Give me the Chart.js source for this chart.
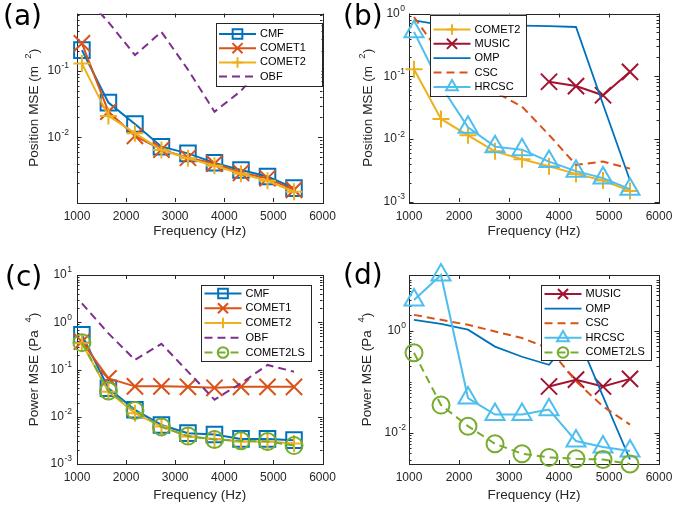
<!DOCTYPE html>
<html><head><meta charset="utf-8">
<script src="https://cdn.jsdelivr.net/npm/chart.js@4.4.0/dist/chart.umd.min.js"></script>
<style>
html,body{margin:0;padding:0;background:#fff;}
#wrap{position:relative;width:673px;height:510px;overflow:hidden;background:#fff;}
canvas{position:absolute;display:block;}
</style></head><body>
<div id="wrap">
<canvas id="ca" width="336" height="250" style="left:0;top:0;width:336px;height:250px"></canvas>
<canvas id="cb" width="337" height="250" style="left:336px;top:0;width:337px;height:250px"></canvas>
<canvas id="cc" width="336" height="260" style="left:0;top:250px;width:336px;height:260px"></canvas>
<canvas id="cd" width="337" height="260" style="left:336px;top:250px;width:337px;height:260px"></canvas>
</div>
<script>
// ---------------- DATA ----------------
const frequencies = [1100, 1640, 2180, 2720, 3260, 3800, 4340, 4880, 5420];
const freqTicks = [1000, 2000, 3000, 4000, 5000, 6000];

// Position MSE (m^2) — panels (a), (b)
const posCMF    = [0.207, 0.0333, 0.0158, 0.0072, 0.0057, 0.0041, 0.0032, 0.00255, 0.0017];
const posCOMET1 = [0.262, 0.0243, 0.0105, 0.0065, 0.0049, 0.0040, 0.0029, 0.0024, 0.0016];
const posCOMET2 = [0.130, 0.0210, 0.0115, 0.0064, 0.0048, 0.0037, 0.0028, 0.0022, 0.0015];
const posOBF    = [1.5, 0.55, 0.174, 0.39, 0.105, 0.0243, 0.050, 0.15, 0.12];
const posMUSIC  = [null, null, null, null, null, 0.082, 0.070, 0.050, 0.118];
const posOMP    = [0.78, 0.66, 0.65, 0.64, 0.64, 0.63, 0.61, 0.036, 0.0022];
const posCSC    = [0.88, 0.22, 0.11, 0.056, 0.033, 0.0117, 0.0039, 0.0044, 0.0034];
const posHRCSC  = [0.51, 0.07, 0.0155, 0.0076, 0.0068, 0.0044, 0.0031, 0.0024, 0.0016];

// Power MSE (Pa^4) — panels (c), (d)
const powCMF      = [0.54, 0.040, 0.0140, 0.0067, 0.0045, 0.0042, 0.0034, 0.0034, 0.0032];
const powCOMET1   = [0.39, 0.065, 0.044, 0.044, 0.043, 0.041, 0.043, 0.043, 0.043];
const powCOMET2   = [0.36, 0.034, 0.0119, 0.0062, 0.0038, 0.0034, 0.0030, 0.0030, 0.0027];
const powOBF      = [2.5, 0.58, 0.16, 0.35, 0.09, 0.023, 0.051, 0.125, 0.09];
const powCOMET2LS = [0.37, 0.035, 0.0135, 0.0061, 0.0039, 0.0033, 0.0031, 0.0030, 0.00245];
const powMUSIC    = [null, null, null, null, null, 0.081, 0.11, 0.081, 0.114];
const powOMP      = [1.64, 1.37, 1.05, 0.49, 0.31, 0.216, 0.92, 0.052, 0.0030];
const powCSC      = [2.05, 1.64, 1.31, 0.97, 0.72, 0.45, 0.102, 0.033, 0.0145];
const powHRCSC    = [4.0, 12.4, 0.048, 0.0228, 0.0228, 0.0285, 0.0069, 0.0053, 0.0044];

// y tick labels (powers of ten) per panel
const aTickExp = [-2, -1];
const bTickExp = [-3, -2, -1, 0];
const cTickExp = [-3, -2, -1, 0, 1];
const dTickExp = [-2, 0];

// ---------------- STYLE ----------------
const COL = {blue:'#0072BD', orange:'#D95319', yellow:'#EDB120', purple:'#7E2F8E',
             green:'#77AC30', cyan:'#4DBEEE', dred:'#A2142F'};
const AX = '#262626';
const FONT = '"Liberation Sans", Arial, Helvetica, sans-serif';
const MK = {
  square: {style:'rect', r:11},
  x: {style:'crossRot', r:11.5},
  plus: {style:'cross', r:8.5},
  tri: {style:'triangle', r:11},
  circ: {style:'circle', r:8.5},
  none: {style:'circle', r:0}
};

function series(label, values, color, marker, dashed, n, i, extra) {
  const m = MK[marker];
  return Object.assign({
    label,
    data: values.map((v, k) => ({x: frequencies[k], y: v})),
    borderColor: color,
    backgroundColor: 'rgba(0,0,0,0)',
    borderWidth: 2,
    borderDash: dashed ? [8, 5] : [],
    pointStyle: m.style,
    pointRadius: m.r,
    pointHoverRadius: m.r,
    pointBorderWidth: 2,
    pointBorderColor: color,
    pointBackgroundColor: 'rgba(0,0,0,0)',
    tension: 0,
    clip: false,
    order: n - i,
    mk: m
  }, extra || {});
}

function drawMarker(ctx, style, r, x, y) {
  if (r <= 0) return;
  ctx.beginPath();
  if (style === 'rect') { const s = r * Math.SQRT1_2; ctx.rect(x - s, y - s, 2 * s, 2 * s); }
  else if (style === 'circle') { ctx.arc(x, y, r, 0, 2 * Math.PI); }
  else if (style === 'triangle') {
    ctx.moveTo(x, y - r);
    ctx.lineTo(x + r * Math.sin(2 * Math.PI / 3), y - r * Math.cos(2 * Math.PI / 3));
    ctx.lineTo(x + r * Math.sin(4 * Math.PI / 3), y - r * Math.cos(4 * Math.PI / 3));
    ctx.closePath();
  }
  else if (style === 'cross') { ctx.moveTo(x, y - r); ctx.lineTo(x, y + r); ctx.moveTo(x - r, y); ctx.lineTo(x + r, y); }
  else if (style === 'crossRot') { const d = r * Math.SQRT1_2; ctx.moveTo(x - d, y - d); ctx.lineTo(x + d, y + d); ctx.moveTo(x + d, y - d); ctx.lineTo(x - d, y + d); }
  ctx.stroke();
}

const matlabAxes = {
  id: 'matlabAxes',
  beforeDatasetsDraw(chart, args, o) {
    const ctx = chart.ctx, a = chart.chartArea, xs = chart.scales.x, ys = chart.scales.y;
    ctx.save();
    ctx.strokeStyle = AX; ctx.lineWidth = 1; ctx.setLineDash([]);
    ctx.beginPath();
    freqTicks.forEach(v => {
      const px = Math.round(xs.getPixelForValue(v)) + 0.5;
      ctx.moveTo(px, a.bottom); ctx.lineTo(px, a.bottom - 4);
      ctx.moveTo(px, a.top); ctx.lineTo(px, a.top + 4);
    });
    const lo = Math.floor(Math.log10(ys.min)), hi = Math.ceil(Math.log10(ys.max));
    for (let e = lo; e <= hi; e++) for (let k = 1; k <= 9; k++) {
      const v = k * Math.pow(10, e);
      if (v < ys.min * 0.999 || v > ys.max * 1.001) continue;
      const major = (k === 1 && o.tickExp.includes(e));
      const len = major ? 4.5 : 2.5;
      const py = Math.round(ys.getPixelForValue(v)) + 0.5;
      ctx.moveTo(a.left, py); ctx.lineTo(a.left + len, py);
      ctx.moveTo(a.right, py); ctx.lineTo(a.right - len, py);
    }
    ctx.stroke();
    ctx.strokeRect(Math.round(a.left) + 0.5, Math.round(a.top) + 0.5,
                   Math.round(a.right - a.left), Math.round(a.bottom - a.top));
    ctx.restore();
  },
  afterDraw(chart, args, o) {
    const ctx = chart.ctx, a = chart.chartArea, xs = chart.scales.x, ys = chart.scales.y;
    ctx.save();
    ctx.fillStyle = AX;
    // x tick labels
    ctx.font = '12px ' + FONT; ctx.textAlign = 'center'; ctx.textBaseline = 'middle';
    freqTicks.forEach(v => ctx.fillText(String(v), xs.getPixelForValue(v), a.bottom + o.xLabY));
    // x title
    ctx.font = '13.5px ' + FONT;
    ctx.fillText('Frequency (Hz)', (a.left + a.right) / 2, a.bottom + o.xTitleY);
    // y tick labels
    const baseF = '12px ' + FONT, expF = '8.5px ' + FONT;
    ctx.textAlign = 'left';
    o.tickExp.forEach(e => {
      const py = ys.getPixelForValue(Math.pow(10, e));
      const et = String(e);
      ctx.font = expF; const ew = ctx.measureText(et).width;
      ctx.font = baseF; const bw = ctx.measureText('10').width;
      const right = a.left - o.yLabGap;
      ctx.fillText('10', right - ew - bw - 0.5, py);
      ctx.font = expF; ctx.fillText(et, right - ew, py - 5);
    });
    // y title (rotated, with superscript)
    ctx.save();
    ctx.translate(a.left + o.yTitleX, (a.top + a.bottom) / 2);
    ctx.rotate(-Math.PI / 2);
    const tF = '13.5px ' + FONT, sF = '9.5px ' + FONT;
    let total = 0;
    o.yTitle.forEach(p => { ctx.font = p.sup ? sF : tF; p.w = ctx.measureText(p.t).width; total += p.w; });
    let xx = -total / 2;
    ctx.textAlign = 'left';
    o.yTitle.forEach(p => { ctx.font = p.sup ? sF : tF; ctx.fillText(p.t, xx, p.sup ? -6 : 0); xx += p.w; });
    ctx.restore();
    // panel tag
    ctx.fillStyle = '#000';
    ctx.font = '28px "DejaVu Sans", sans-serif'; ctx.textAlign = 'left'; ctx.textBaseline = 'alphabetic';
    ctx.fillText(o.tag, o.tagX, o.tagY);
    // legend
    const L = o.legend;
    const bx = L.right !== undefined ? a.right - L.right - L.w : a.left + L.left;
    const by = a.top + L.top;
    ctx.fillStyle = '#fff';
    ctx.fillRect(bx, by, L.w, L.h);
    ctx.strokeStyle = AX; ctx.lineWidth = 1; ctx.setLineDash([]);
    ctx.strokeRect(Math.round(bx) + 0.5, Math.round(by) + 0.5, Math.round(L.w), Math.round(L.h));
    chart.data.datasets.forEach((ds, i) => {
      const y = by + L.first + i * L.step;
      ctx.strokeStyle = ds.borderColor; ctx.lineWidth = ds.borderWidth;
      ctx.setLineDash(ds.borderDash);
      ctx.beginPath(); ctx.moveTo(bx + 3.5, y); ctx.lineTo(bx + 40.5, y); ctx.stroke();
      ctx.setLineDash([]); ctx.lineWidth = 2;
      drawMarker(ctx, ds.mk.style, ds.mk.r * 0.62, bx + 22, y);
      ctx.fillStyle = '#000'; ctx.font = '11px ' + FONT; ctx.textBaseline = 'middle';
      ctx.fillText(ds.label, bx + 44.5, y);
    });
    ctx.restore();
  }
};

function makeChart(id, datasets, yMin, yMax, opts) {
  return new Chart(document.getElementById(id), {
    type: 'line',
    data: {datasets},
    options: {
      responsive: false, animation: false, events: [],
      layout: {padding: opts.padding},
      plugins: {legend: {display: false}, tooltip: {enabled: false}, matlabAxes: opts},
      scales: {
        x: {type: 'linear', min: 1000, max: 6000, display: false},
        y: {type: 'logarithmic', min: yMin, max: yMax, display: false}
      }
    },
    plugins: [matlabAxes]
  });
}

const posTitle = [{t:'Position MSE (m  '}, {t:'2', sup:true}, {t:')'}];
const powTitle = [{t:'Power MSE (Pa  '}, {t:'4', sup:true}, {t:')'}];

// (a)
makeChart('ca', [
  series('CMF', posCMF, COL.blue, 'square', false, 4, 0),
  series('COMET1', posCOMET1, COL.orange, 'x', false, 4, 1),
  series('COMET2', posCOMET2, COL.yellow, 'plus', false, 4, 2),
  series('OBF', posOBF, COL.purple, 'none', true, 4, 3, {clip: 0})
], 0.00105, 0.74, {
  padding: {left: 77, top: 13, right: 7, bottom: 48},
  tickExp: aTickExp, yLabGap: 8, yTitleX: -43, xLabY: 14.5, xTitleY: 29.5,
  yTitle: posTitle, tag: '(a)', tagX: 3, tagY: 24.5,
  legend: {right: 1, top: 9, w: 106, h: 63, first: 11.5, step: 14.2}
});

// (b)
makeChart('cb', [
  series('COMET2', posCOMET2, COL.yellow, 'plus', false, 5, 0),
  series('MUSIC', posMUSIC, COL.dred, 'x', false, 5, 1),
  series('OMP', posOMP, COL.blue, 'none', false, 5, 2, {borderWidth: 1.8}),
  series('CSC', posCSC, COL.orange, 'none', true, 5, 3),
  series('HRCSC', posHRCSC, COL.cyan, 'tri', false, 5, 4)
], 0.001, 1, {
  padding: {left: 73, top: 13, right: 14, bottom: 48},
  tickExp: bTickExp, yLabGap: 4, yTitleX: -40.5, xLabY: 14.5, xTitleY: 29.5,
  yTitle: posTitle, tag: '(b)', tagX: 7, tagY: 24.5,
  legend: {left: 21, top: 1, w: 96, h: 81, first: 15, step: 14.35}
});

// (c)
makeChart('cc', [
  series('CMF', powCMF, COL.blue, 'square', false, 5, 0),
  series('COMET1', powCOMET1, COL.orange, 'x', false, 5, 1),
  series('COMET2', powCOMET2, COL.yellow, 'plus', false, 5, 2),
  series('OBF', powOBF, COL.purple, 'none', true, 5, 3),
  series('COMET2LS', powCOMET2LS, COL.green, 'circ', true, 5, 4)
], 0.001, 10, {
  padding: {left: 77, top: 25, right: 7, bottom: 46},
  tickExp: cTickExp, yLabGap: 5, yTitleX: -43, xLabY: 13.5, xTitleY: 31,
  yTitle: powTitle, tag: '(c)', tagX: 5, tagY: 35.5,
  legend: {right: 11.5, top: 10, w: 110, h: 76, first: 8.5, step: 14.75}
});

// (d)
makeChart('cd', [
  series('MUSIC', powMUSIC, COL.dred, 'x', false, 5, 0),
  series('OMP', powOMP, COL.blue, 'none', false, 5, 1, {borderWidth: 1.8}),
  series('CSC', powCSC, COL.orange, 'none', true, 5, 2),
  series('HRCSC', powHRCSC, COL.cyan, 'tri', false, 5, 3),
  series('COMET2LS', powCOMET2LS, COL.green, 'circ', true, 5, 4)
], 0.00245, 12.4, {
  padding: {left: 73, top: 25, right: 14, bottom: 46},
  tickExp: dTickExp, yLabGap: 3, yTitleX: -41.5, xLabY: 13.5, xTitleY: 31,
  yTitle: powTitle, tag: '(d)', tagX: 7, tagY: 34,
  legend: {right: 8, top: 10, w: 110, h: 75, first: 9, step: 14.6}
});
</script>
</body></html>
